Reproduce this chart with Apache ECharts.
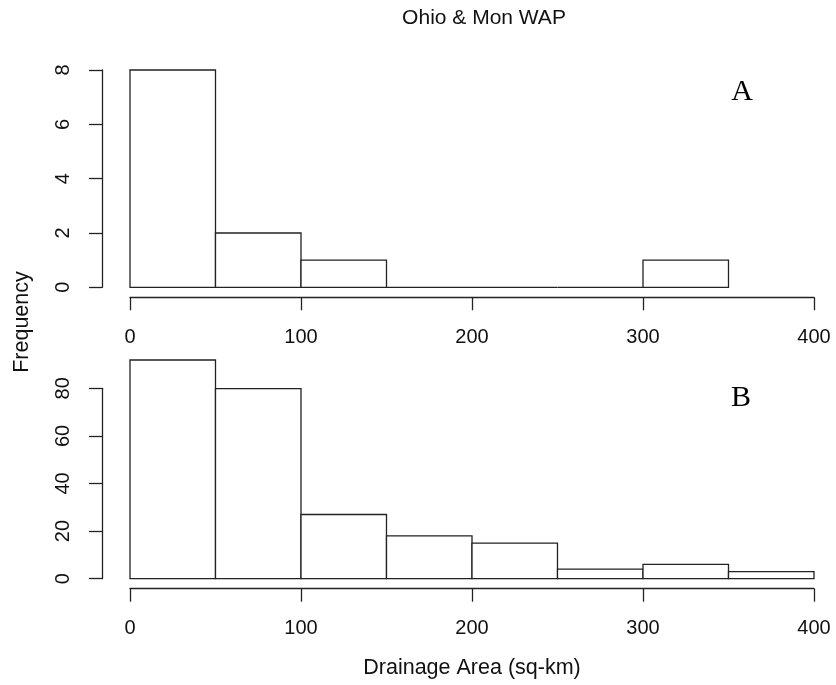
<!DOCTYPE html>
<html>
<head>
<meta charset="utf-8">
<script src="https://cdn.jsdelivr.net/npm/echarts@6/dist/echarts.min.js"></script>
<style>html,body{margin:0;padding:0;background:#fff}#c{width:836px;height:685px}</style>
</head>
<body>
<div id="c"></div>
<script>
// ---- data ----
const chartTitle = 'Ohio & Mon WAP';
const xAxisTitle = 'Drainage Area (sq-km)';
const yAxisTitle = 'Frequency';
const binEdgesA = [0, 50, 100, 150, 200, 250, 300, 350];
const countsA = [8, 2, 1, 0, 0, 0, 1];
const binEdgesB = [0, 50, 100, 150, 200, 250, 300, 350, 400];
const countsB = [92, 80, 27, 18, 15, 4, 6, 3];
const xTicks = [0, 100, 200, 300, 400];
const yTicksA = [0, 2, 4, 6, 8];
const yTicksB = [0, 20, 40, 60, 80];
const panelLabels = ['A', 'B'];

function bins(edges, counts) {
  return counts.map((c, i) => [edges[i], edges[i + 1], c]);
}

const LINE = '#222';
const TXT = '#111';
const FONT = 'Liberation Sans';

function renderBar(params, api) {
  const s = api.coord([api.value(0), 0]);
  const e = api.coord([api.value(1), api.value(2)]);
  return {
    type: 'rect',
    shape: { x: s[0], y: e[1], width: e[0] - s[0], height: s[1] - e[1] },
    style: { fill: '#fff', stroke: LINE, lineWidth: 1.3 }
  };
}

const xAxisCommon = {
  type: 'value', min: xTicks[0], max: xTicks[xTicks.length - 1],
  interval: xTicks[1] - xTicks[0],
  offset: 10,
  splitLine: { show: false },
  axisLine: { show: true, onZero: false, lineStyle: { color: LINE, width: 1.3 } },
  axisTick: { show: true, length: 13, lineStyle: { color: LINE, width: 1.3 } },
  axisLabel: { color: TXT, fontSize: 20, fontFamily: FONT, margin: 30 }
};
const yAxisCommon = {
  type: 'value', min: 0,
  offset: 28,
  splitLine: { show: false },
  axisLine: { show: true, onZero: false, lineStyle: { color: LINE, width: 1.3 } },
  axisTick: { show: true, length: 13, lineStyle: { color: LINE, width: 1.3 } },
  axisLabel: { color: TXT, fontSize: 20, fontFamily: FONT, margin: 29, rotate: 90,
               showMinLabel: true, showMaxLabel: true }
};

const chart = echarts.init(document.getElementById('c'), null, { renderer: 'canvas' });
chart.setOption({
  backgroundColor: '#fff',
  animation: false,
  grid: [
    { left: 130, right: 22, top: 70, height: 217.3 },
    { left: 130, right: 22, top: 360, height: 218.7 },
    { left: 130, right: 22, top: 388.3, height: 190.4 }
  ],
  xAxis: [
    Object.assign({}, xAxisCommon, { gridIndex: 0 }),
    Object.assign({}, xAxisCommon, { gridIndex: 1 }),
    { type: 'value', gridIndex: 2, min: 0, max: 400, show: false }
  ],
  yAxis: [
    Object.assign({}, yAxisCommon, { gridIndex: 0, max: yTicksA[yTicksA.length - 1], interval: yTicksA[1] - yTicksA[0] }),
    { type: 'value', gridIndex: 1, min: 0, max: Math.max(...countsB), show: false },
    Object.assign({}, yAxisCommon, { gridIndex: 2, max: yTicksB[yTicksB.length - 1], interval: yTicksB[1] - yTicksB[0] })
  ],
  series: [
    { type: 'custom', xAxisIndex: 0, yAxisIndex: 0, renderItem: renderBar,
      data: bins(binEdgesA, countsA), clip: false },
    { type: 'custom', xAxisIndex: 1, yAxisIndex: 1, renderItem: renderBar,
      data: bins(binEdgesB, countsB), clip: false }
  ],
  graphic: [
    { type: 'text', x: 484, y: 18, style: { text: chartTitle, fill: TXT, font: '21px "Liberation Sans"', textAlign: 'center', textVerticalAlign: 'middle' } },
    { type: 'text', x: 472, y: 668, style: { text: xAxisTitle, fill: TXT, font: '21.5px "Liberation Sans"', textAlign: 'center', textVerticalAlign: 'middle' } },
    { type: 'text', x: 22, y: 322, rotation: Math.PI / 2, style: { text: yAxisTitle, fill: TXT, font: '21.5px "Liberation Sans"', textAlign: 'center', textVerticalAlign: 'middle' } },
    { type: 'text', x: 742, y: 92, style: { text: panelLabels[0], fill: '#000', font: '30px "Liberation Serif"', textAlign: 'center', textVerticalAlign: 'middle' } },
    { type: 'text', x: 741, y: 398, style: { text: panelLabels[1], fill: '#000', font: '30px "Liberation Serif"', textAlign: 'center', textVerticalAlign: 'middle' } }
  ]
});
</script>
</body>
</html>
